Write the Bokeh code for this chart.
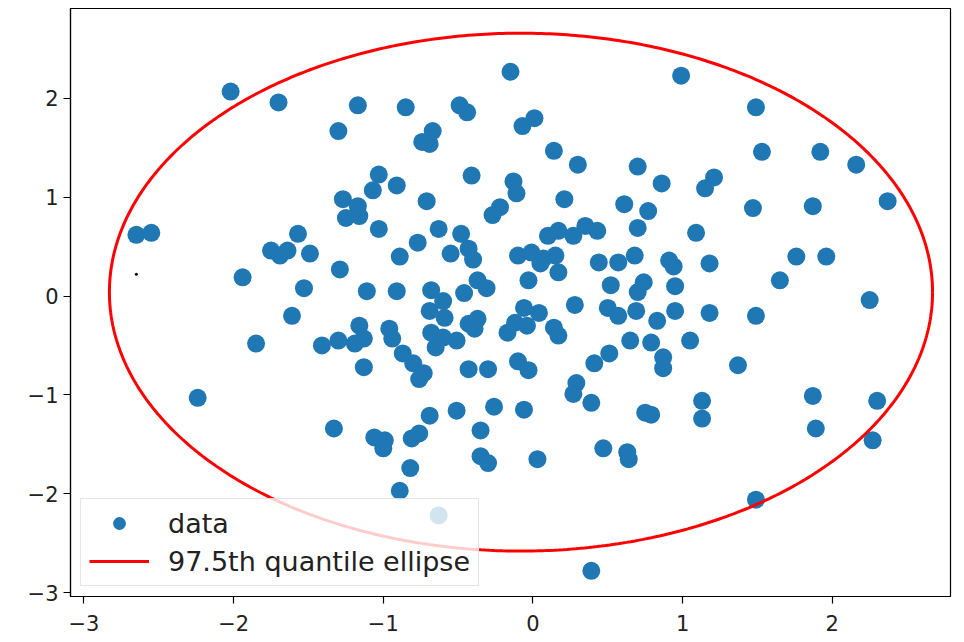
import numpy as np
from bokeh.plotting import figure
from bokeh.models import Range1d, FixedTicker, Legend, LegendItem
from bokeh.embed import file_html
from bokeh.resources import INLINE

# Sample points (x, y)
data_x = [
    -2.02, -1.70, -0.15, 0.99, -1.17, -0.85, -0.49, -0.44, -1.30, -0.67,
    -0.74, -0.69, -0.07, 0.01, 0.14, 0.30, 0.70, 0.86, 1.21, 1.15,
    -0.13, -0.11, 0.21, 0.61, 0.77, 1.49, 1.53, 1.92, 2.16, 2.37,
    1.47, 1.87, -1.03, -1.07, -0.91, -1.27, -1.17, -1.25, -1.16, -0.71,
    -0.41, -0.22, -0.27, -1.03, -2.65, -2.55, -1.94, -1.75, -1.69, -1.64,
    -1.57, -1.49, -1.53, -1.61, -1.85, -2.24, -1.29, -1.11, -0.91, -0.89,
    -0.77, -0.63, -0.48, -0.55, -0.43, -0.40, -0.68, -0.60, -0.69, -0.59,
    -0.68, -0.60, -0.65, -0.51, -0.46, -0.37, -0.31, -0.43, -0.37, -0.39,
    -0.43, -0.30, -0.17, -0.12, -0.04, -0.10, -0.03, -0.51, -0.26, -1.16,
    -1.13, -1.19, -1.30, -1.41, -0.96, -0.94, -0.87, -0.80, -0.73, -0.76,
    -1.13, 0.10, 0.17, 0.27, 0.35, 0.43, 0.70, 1.09, -0.10, -0.01,
    0.07, 0.15, 0.05, 0.17, -0.03, 0.44, 0.57, 0.68, 0.91, 0.94,
    1.18, 0.52, 0.74, 0.70, 0.69, 0.95, 0.95, 1.18, 0.83, 0.50,
    0.57, 0.28, -0.06, 0.04, 0.14, 0.17, 0.65, 0.79, 1.05, 0.87,
    0.87, 0.51, 0.41, 0.29, 0.27, 0.39, -0.06, 1.13, 1.13, 1.37,
    0.75, 0.79, 0.03, 0.47, 0.63, 0.64, 0.39, -1.33, -1.06, -0.99,
    -1.00, -0.81, -0.76, -0.69, -0.35, -0.35, -0.30, -0.82, -0.89, -0.63,
    1.87, 2.30, 1.89, 2.27, 1.49, 1.76, 1.96, 1.65, 2.25, 1.49,
]
data_y = [
    2.07, 1.96, 2.27, 2.23, 1.93, 1.91, 1.93, 1.86, 1.67, 1.67,
    1.56, 1.54, 1.72, 1.80, 1.47, 1.33, 1.31, 1.14, 1.20, 1.09,
    1.16, 1.04, 0.98, 0.93, 0.86, 1.91, 1.46, 1.46, 1.33, 0.96,
    0.89, 0.91, 1.23, 1.07, 1.12, 0.98, 0.91, 0.79, 0.81, 0.96,
    1.22, 0.90, 0.82, 0.68, 0.62, 0.64, 0.19, 0.46, 0.41, 0.46,
    0.63, 0.43, 0.08, -0.20, -0.48, -1.03, 0.27, 0.05, 0.05, 0.40,
    0.54, 0.68, 0.63, 0.43, 0.48, 0.37, 0.06, -0.05, -0.15, -0.22,
    -0.37, -0.42, -0.52, -0.45, 0.03, 0.16, 0.08, -0.28, -0.23, -0.33,
    -0.74, -0.74, -0.37, -0.27, -0.30, -0.66, -0.75, -1.16, -1.12, -0.30,
    -0.43, -0.48, -0.45, -0.50, -0.33, -0.43, -0.58, -0.68, -0.78, -0.84,
    -0.72, 0.61, 0.66, 0.61, 0.71, 0.66, 0.69, 0.64, 0.41, 0.44,
    0.38, 0.41, 0.33, 0.24, 0.16, 0.34, 0.34, 0.41, 0.36, 0.30,
    0.33, 0.11, 0.14, 0.04, -0.15, 0.10, -0.15, -0.17, -0.25, -0.12,
    -0.20, -0.09, -0.12, -0.17, -0.32, -0.40, -0.45, -0.47, -0.45, -0.62,
    -0.73, -0.58, -0.68, -0.88, -0.99, -1.08, -1.15, -1.06, -1.24, -0.70,
    -1.18, -1.20, -1.65, -1.54, -1.58, -1.65, -2.78, -1.34, -1.43, -1.46,
    -1.54, -1.44, -1.39, -1.21, -1.36, -1.62, -1.69, -1.74, -1.97, -2.22,
    -1.01, -1.06, -1.34, -1.46, -2.06, 0.40, 0.40, 0.16, -0.04, -0.20,
]

# Small stray mark left of the cloud
stray_x = [-2.65]
stray_y = [0.22]

# 97.5th quantile ellipse parameters
ellipse_center_x = -0.08
ellipse_center_y = 0.04
ellipse_semi_x = 2.75
ellipse_semi_y = 2.62

x_ticks = [-3, -2, -1, 0, 1, 2]
y_ticks = [-3, -2, -1, 0, 1, 2]
x_tick_labels = ["\u22123", "\u22122", "\u22121", "0", "1", "2"]
y_tick_labels = ["\u22123", "\u22122", "\u22121", "0", "1", "2"]

FONT = "DejaVu Sans"

p = figure(
    width=964, height=642,
    output_backend="svg", toolbar_location=None,
    x_range=Range1d(-3.09, 2.79), y_range=Range1d(-3.04, 2.91),
    min_border_left=70, min_border_right=14,
    min_border_top=8, min_border_bottom=46,
)
p.grid.visible = False
p.outline_line_color = "black"
p.outline_line_width = 1.2
p.background_fill_color = "white"
p.border_fill_color = "white"

for ax, ticks, labels, standoff in ((p.xaxis[0], x_ticks, x_tick_labels, 11),
                                    (p.yaxis[0], y_ticks, y_tick_labels, 5)):
    ax.ticker = FixedTicker(ticks=ticks)
    ax.major_label_overrides = {t: l for t, l in zip(ticks, labels)}
    ax.major_tick_out = 7
    ax.major_tick_in = 0
    ax.minor_tick_out = 0
    ax.minor_tick_in = 0
    ax.axis_line_color = "black"
    ax.axis_line_width = 1.2
    ax.major_tick_line_color = "black"
    ax.major_tick_line_width = 1.2
    ax.major_label_text_font = FONT
    ax.major_label_text_font_size = "21px"
    ax.major_label_text_color = "#222222"
    ax.major_label_standoff = standoff

pts = p.scatter(data_x, data_y, size=18, color="#1f77b4", line_color=None)
p.scatter(stray_x, stray_y, size=3, color="black", line_color=None)

t = np.linspace(0, 2 * np.pi, 600)
ex = ellipse_center_x + ellipse_semi_x * np.cos(t)
ey = ellipse_center_y + ellipse_semi_y * np.sin(t)
ell = p.line(ex, ey, line_color="red", line_width=3)

legend = Legend(
    items=[LegendItem(label="data", renderers=[pts]),
           LegendItem(label="97.5th quantile ellipse", renderers=[ell])],
    location="bottom_left",
)
legend.label_text_font = FONT
legend.label_text_font_size = "27px"
legend.label_text_color = "#222222"
legend.border_line_color = "#cccccc"
legend.border_line_width = 1.2
legend.background_fill_color = "white"
legend.background_fill_alpha = 0.8
legend.glyph_width = 60
legend.glyph_height = 32
legend.label_height = 32
legend.label_standoff = 19
legend.padding = 8
legend.spacing = 6
legend.margin = 10
p.add_layout(legend)

open("out.html", "w").write(file_html(p, INLINE))
